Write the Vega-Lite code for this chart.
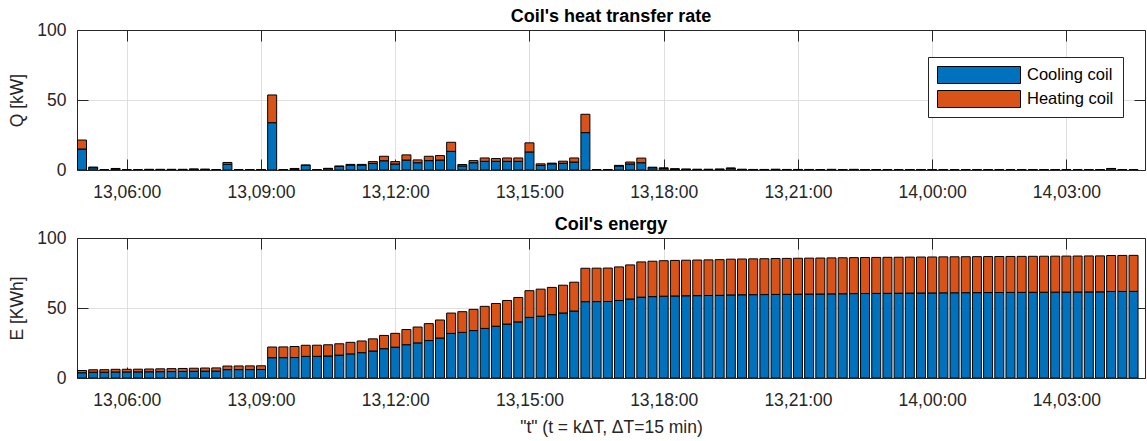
{
  "$schema": "https://vega.github.io/schema/vega-lite/v6.json",
  "padding": {"left": 8, "top": 8, "right": 0, "bottom": 5},
  "bounds": "flush",
  "spacing": 68,
  "resolve": {"legend": {"color": "independent"}},
  "config": {
    "font": "Liberation Sans",
    "view": {"stroke": null},
    "axis": {
      "labelFont": "Liberation Sans",
      "labelFontSize": 17.5,
      "labelColor": "#262626",
      "labelFlush": false,
      "labelOverlap": false,
      "titleFont": "Liberation Sans",
      "titleFontSize": 17.5,
      "titleFontWeight": "normal",
      "titleColor": "#262626",
      "domainColor": "#262626",
      "domainWidth": 1,
      "tickColor": "#262626",
      "tickWidth": 1,
      "tickSize": -11,
      "gridColor": "#dfdfdf",
      "gridWidth": 1
    },
    "axisX": {"labelPadding": 24, "titlePadding": 10},
    "axisY": {"labelPadding": 22, "titlePadding": 10},
    "title": {"font": "Liberation Sans", "fontSize": 18, "fontWeight": "bold", "color": "#000000", "offset": -5}
  },
  "datasets": {
    "rate": [
      {"t": "2021-07-13T05:00", "Cooling coil": 15.0, "Heating coil": 6.4},
      {"t": "2021-07-13T05:15", "Cooling coil": 1.6, "Heating coil": 0.5},
      {"t": "2021-07-13T05:30", "Cooling coil": 0.1, "Heating coil": 0.1},
      {"t": "2021-07-13T05:45", "Cooling coil": 0.6, "Heating coil": 0.5},
      {"t": "2021-07-13T06:00", "Cooling coil": 0.1, "Heating coil": 0.1},
      {"t": "2021-07-13T06:15", "Cooling coil": 0.1, "Heating coil": 0.1},
      {"t": "2021-07-13T06:30", "Cooling coil": 0.3, "Heating coil": 0.2},
      {"t": "2021-07-13T06:45", "Cooling coil": 0.3, "Heating coil": 0.2},
      {"t": "2021-07-13T07:00", "Cooling coil": 0.3, "Heating coil": 0.2},
      {"t": "2021-07-13T07:15", "Cooling coil": 0.3, "Heating coil": 0.2},
      {"t": "2021-07-13T07:30", "Cooling coil": 0.5, "Heating coil": 0.2},
      {"t": "2021-07-13T07:45", "Cooling coil": 0.4, "Heating coil": 0.2},
      {"t": "2021-07-13T08:00", "Cooling coil": 0.2, "Heating coil": 0.1},
      {"t": "2021-07-13T08:15", "Cooling coil": 4.1, "Heating coil": 1.3},
      {"t": "2021-07-13T08:30", "Cooling coil": 0.1, "Heating coil": 0.1},
      {"t": "2021-07-13T08:45", "Cooling coil": 0.1, "Heating coil": 0.1},
      {"t": "2021-07-13T09:00", "Cooling coil": 0.2, "Heating coil": 0.1},
      {"t": "2021-07-13T09:15", "Cooling coil": 33.8, "Heating coil": 19.8},
      {"t": "2021-07-13T09:30", "Cooling coil": 0.1, "Heating coil": 0.2},
      {"t": "2021-07-13T09:45", "Cooling coil": 0.3, "Heating coil": 0.8},
      {"t": "2021-07-13T10:00", "Cooling coil": 3.3, "Heating coil": 0.3},
      {"t": "2021-07-13T10:15", "Cooling coil": 0.1, "Heating coil": 0.1},
      {"t": "2021-07-13T10:30", "Cooling coil": 1.0, "Heating coil": 0.2},
      {"t": "2021-07-13T10:45", "Cooling coil": 2.5, "Heating coil": 0.4},
      {"t": "2021-07-13T11:00", "Cooling coil": 3.5, "Heating coil": 0.5},
      {"t": "2021-07-13T11:15", "Cooling coil": 3.5, "Heating coil": 0.5},
      {"t": "2021-07-13T11:30", "Cooling coil": 4.7, "Heating coil": 1.3},
      {"t": "2021-07-13T11:45", "Cooling coil": 6.6, "Heating coil": 3.2},
      {"t": "2021-07-13T12:00", "Cooling coil": 4.3, "Heating coil": 1.7},
      {"t": "2021-07-13T12:15", "Cooling coil": 7.1, "Heating coil": 3.7},
      {"t": "2021-07-13T12:30", "Cooling coil": 5.2, "Heating coil": 2.0},
      {"t": "2021-07-13T12:45", "Cooling coil": 6.7, "Heating coil": 3.1},
      {"t": "2021-07-13T13:00", "Cooling coil": 7.1, "Heating coil": 3.2},
      {"t": "2021-07-13T13:15", "Cooling coil": 13.3, "Heating coil": 6.5},
      {"t": "2021-07-13T13:30", "Cooling coil": 2.9, "Heating coil": 1.0},
      {"t": "2021-07-13T13:45", "Cooling coil": 5.2, "Heating coil": 1.5},
      {"t": "2021-07-13T14:00", "Cooling coil": 6.2, "Heating coil": 2.4},
      {"t": "2021-07-13T14:15", "Cooling coil": 6.2, "Heating coil": 2.0},
      {"t": "2021-07-13T14:30", "Cooling coil": 6.2, "Heating coil": 2.4},
      {"t": "2021-07-13T14:45", "Cooling coil": 6.2, "Heating coil": 2.4},
      {"t": "2021-07-13T15:00", "Cooling coil": 12.9, "Heating coil": 6.5},
      {"t": "2021-07-13T15:15", "Cooling coil": 3.3, "Heating coil": 1.1},
      {"t": "2021-07-13T15:30", "Cooling coil": 4.4, "Heating coil": 0.5},
      {"t": "2021-07-13T15:45", "Cooling coil": 4.8, "Heating coil": 1.5},
      {"t": "2021-07-13T16:00", "Cooling coil": 5.7, "Heating coil": 2.9},
      {"t": "2021-07-13T16:15", "Cooling coil": 26.7, "Heating coil": 13.1},
      {"t": "2021-07-13T16:30", "Cooling coil": 0.2, "Heating coil": 0.1},
      {"t": "2021-07-13T16:45", "Cooling coil": 0.2, "Heating coil": 0.1},
      {"t": "2021-07-13T17:00", "Cooling coil": 2.9, "Heating coil": 0.4},
      {"t": "2021-07-13T17:15", "Cooling coil": 4.3, "Heating coil": 1.4},
      {"t": "2021-07-13T17:30", "Cooling coil": 5.2, "Heating coil": 3.3},
      {"t": "2021-07-13T17:45", "Cooling coil": 1.6, "Heating coil": 0.4},
      {"t": "2021-07-13T18:00", "Cooling coil": 1.2, "Heating coil": 0.3},
      {"t": "2021-07-13T18:15", "Cooling coil": 0.7, "Heating coil": 0.1},
      {"t": "2021-07-13T18:30", "Cooling coil": 0.5, "Heating coil": 0.1},
      {"t": "2021-07-13T18:45", "Cooling coil": 0.4, "Heating coil": 0.1},
      {"t": "2021-07-13T19:00", "Cooling coil": 0.4, "Heating coil": 0.1},
      {"t": "2021-07-13T19:15", "Cooling coil": 0.5, "Heating coil": 0.1},
      {"t": "2021-07-13T19:30", "Cooling coil": 1.2, "Heating coil": 0.2},
      {"t": "2021-07-13T19:45", "Cooling coil": 0.4, "Heating coil": 0.1},
      {"t": "2021-07-13T20:00", "Cooling coil": 0.3, "Heating coil": 0.1},
      {"t": "2021-07-13T20:15", "Cooling coil": 0.3, "Heating coil": 0.1},
      {"t": "2021-07-13T20:30", "Cooling coil": 0.4, "Heating coil": 0.1},
      {"t": "2021-07-13T20:45", "Cooling coil": 0.3, "Heating coil": 0.1},
      {"t": "2021-07-13T21:00", "Cooling coil": 0.3, "Heating coil": 0.1},
      {"t": "2021-07-13T21:15", "Cooling coil": 0.3, "Heating coil": 0.1},
      {"t": "2021-07-13T21:30", "Cooling coil": 0.3, "Heating coil": 0.0},
      {"t": "2021-07-13T21:45", "Cooling coil": 0.4, "Heating coil": 0.0},
      {"t": "2021-07-13T22:00", "Cooling coil": 0.3, "Heating coil": 0.0},
      {"t": "2021-07-13T22:15", "Cooling coil": 0.4, "Heating coil": 0.0},
      {"t": "2021-07-13T22:30", "Cooling coil": 0.3, "Heating coil": 0.0},
      {"t": "2021-07-13T22:45", "Cooling coil": 0.3, "Heating coil": 0.0},
      {"t": "2021-07-13T23:00", "Cooling coil": 0.3, "Heating coil": 0.0},
      {"t": "2021-07-13T23:15", "Cooling coil": 0.2, "Heating coil": 0.0},
      {"t": "2021-07-13T23:30", "Cooling coil": 0.3, "Heating coil": 0.0},
      {"t": "2021-07-13T23:45", "Cooling coil": 0.3, "Heating coil": 0.0},
      {"t": "2021-07-14T00:00", "Cooling coil": 0.2, "Heating coil": 0.0},
      {"t": "2021-07-14T00:15", "Cooling coil": 0.3, "Heating coil": 0.0},
      {"t": "2021-07-14T00:30", "Cooling coil": 0.2, "Heating coil": 0.0},
      {"t": "2021-07-14T00:45", "Cooling coil": 0.2, "Heating coil": 0.0},
      {"t": "2021-07-14T01:00", "Cooling coil": 0.2, "Heating coil": 0.0},
      {"t": "2021-07-14T01:15", "Cooling coil": 0.2, "Heating coil": 0.0},
      {"t": "2021-07-14T01:30", "Cooling coil": 0.2, "Heating coil": 0.0},
      {"t": "2021-07-14T01:45", "Cooling coil": 0.2, "Heating coil": 0.0},
      {"t": "2021-07-14T02:00", "Cooling coil": 0.2, "Heating coil": 0.0},
      {"t": "2021-07-14T02:15", "Cooling coil": 0.2, "Heating coil": 0.0},
      {"t": "2021-07-14T02:30", "Cooling coil": 0.2, "Heating coil": 0.0},
      {"t": "2021-07-14T02:45", "Cooling coil": 0.2, "Heating coil": 0.0},
      {"t": "2021-07-14T03:00", "Cooling coil": 0.2, "Heating coil": 0.0},
      {"t": "2021-07-14T03:15", "Cooling coil": 0.2, "Heating coil": 0.0},
      {"t": "2021-07-14T03:30", "Cooling coil": 0.2, "Heating coil": 0.0},
      {"t": "2021-07-14T03:45", "Cooling coil": 0.2, "Heating coil": 0.0},
      {"t": "2021-07-14T04:00", "Cooling coil": 1.0, "Heating coil": 0.1},
      {"t": "2021-07-14T04:15", "Cooling coil": 0.2, "Heating coil": 0.0},
      {"t": "2021-07-14T04:30", "Cooling coil": 0.2, "Heating coil": 0.0}
    ],
    "energy": [
      {"t": "2021-07-13T05:00", "Cooling coil": 3.75, "Heating coil": 1.6},
      {"t": "2021-07-13T05:15", "Cooling coil": 4.15, "Heating coil": 1.73},
      {"t": "2021-07-13T05:30", "Cooling coil": 4.18, "Heating coil": 1.75},
      {"t": "2021-07-13T05:45", "Cooling coil": 4.33, "Heating coil": 1.88},
      {"t": "2021-07-13T06:00", "Cooling coil": 4.35, "Heating coil": 1.9},
      {"t": "2021-07-13T06:15", "Cooling coil": 4.38, "Heating coil": 1.93},
      {"t": "2021-07-13T06:30", "Cooling coil": 4.45, "Heating coil": 1.98},
      {"t": "2021-07-13T06:45", "Cooling coil": 4.53, "Heating coil": 2.03},
      {"t": "2021-07-13T07:00", "Cooling coil": 4.6, "Heating coil": 2.08},
      {"t": "2021-07-13T07:15", "Cooling coil": 4.68, "Heating coil": 2.13},
      {"t": "2021-07-13T07:30", "Cooling coil": 4.8, "Heating coil": 2.18},
      {"t": "2021-07-13T07:45", "Cooling coil": 4.9, "Heating coil": 2.23},
      {"t": "2021-07-13T08:00", "Cooling coil": 4.95, "Heating coil": 2.25},
      {"t": "2021-07-13T08:15", "Cooling coil": 5.98, "Heating coil": 2.58},
      {"t": "2021-07-13T08:30", "Cooling coil": 6.0, "Heating coil": 2.6},
      {"t": "2021-07-13T08:45", "Cooling coil": 6.03, "Heating coil": 2.63},
      {"t": "2021-07-13T09:00", "Cooling coil": 6.08, "Heating coil": 2.65},
      {"t": "2021-07-13T09:15", "Cooling coil": 14.53, "Heating coil": 7.6},
      {"t": "2021-07-13T09:30", "Cooling coil": 14.55, "Heating coil": 7.65},
      {"t": "2021-07-13T09:45", "Cooling coil": 14.63, "Heating coil": 7.85},
      {"t": "2021-07-13T10:00", "Cooling coil": 15.45, "Heating coil": 7.93},
      {"t": "2021-07-13T10:15", "Cooling coil": 15.48, "Heating coil": 7.95},
      {"t": "2021-07-13T10:30", "Cooling coil": 15.73, "Heating coil": 8.0},
      {"t": "2021-07-13T10:45", "Cooling coil": 16.35, "Heating coil": 8.1},
      {"t": "2021-07-13T11:00", "Cooling coil": 17.23, "Heating coil": 8.23},
      {"t": "2021-07-13T11:15", "Cooling coil": 18.1, "Heating coil": 8.35},
      {"t": "2021-07-13T11:30", "Cooling coil": 19.28, "Heating coil": 8.68},
      {"t": "2021-07-13T11:45", "Cooling coil": 20.93, "Heating coil": 9.48},
      {"t": "2021-07-13T12:00", "Cooling coil": 22.0, "Heating coil": 9.9},
      {"t": "2021-07-13T12:15", "Cooling coil": 23.78, "Heating coil": 10.83},
      {"t": "2021-07-13T12:30", "Cooling coil": 25.08, "Heating coil": 11.33},
      {"t": "2021-07-13T12:45", "Cooling coil": 26.75, "Heating coil": 12.1},
      {"t": "2021-07-13T13:00", "Cooling coil": 28.53, "Heating coil": 12.9},
      {"t": "2021-07-13T13:15", "Cooling coil": 31.85, "Heating coil": 14.53},
      {"t": "2021-07-13T13:30", "Cooling coil": 32.58, "Heating coil": 14.78},
      {"t": "2021-07-13T13:45", "Cooling coil": 33.88, "Heating coil": 15.15},
      {"t": "2021-07-13T14:00", "Cooling coil": 35.43, "Heating coil": 15.75},
      {"t": "2021-07-13T14:15", "Cooling coil": 36.98, "Heating coil": 16.25},
      {"t": "2021-07-13T14:30", "Cooling coil": 38.53, "Heating coil": 16.85},
      {"t": "2021-07-13T14:45", "Cooling coil": 40.08, "Heating coil": 17.45},
      {"t": "2021-07-13T15:00", "Cooling coil": 43.3, "Heating coil": 19.08},
      {"t": "2021-07-13T15:15", "Cooling coil": 44.13, "Heating coil": 19.35},
      {"t": "2021-07-13T15:30", "Cooling coil": 45.23, "Heating coil": 19.48},
      {"t": "2021-07-13T15:45", "Cooling coil": 46.43, "Heating coil": 19.85},
      {"t": "2021-07-13T16:00", "Cooling coil": 47.85, "Heating coil": 20.58},
      {"t": "2021-07-13T16:15", "Cooling coil": 54.53, "Heating coil": 23.85},
      {"t": "2021-07-13T16:30", "Cooling coil": 54.58, "Heating coil": 23.88},
      {"t": "2021-07-13T16:45", "Cooling coil": 54.63, "Heating coil": 23.9},
      {"t": "2021-07-13T17:00", "Cooling coil": 55.35, "Heating coil": 24.0},
      {"t": "2021-07-13T17:15", "Cooling coil": 56.43, "Heating coil": 24.35},
      {"t": "2021-07-13T17:30", "Cooling coil": 57.73, "Heating coil": 25.18},
      {"t": "2021-07-13T17:45", "Cooling coil": 58.13, "Heating coil": 25.28},
      {"t": "2021-07-13T18:00", "Cooling coil": 58.43, "Heating coil": 25.35},
      {"t": "2021-07-13T18:15", "Cooling coil": 58.6, "Heating coil": 25.38},
      {"t": "2021-07-13T18:30", "Cooling coil": 58.73, "Heating coil": 25.4},
      {"t": "2021-07-13T18:45", "Cooling coil": 58.83, "Heating coil": 25.43},
      {"t": "2021-07-13T19:00", "Cooling coil": 58.93, "Heating coil": 25.45},
      {"t": "2021-07-13T19:15", "Cooling coil": 59.05, "Heating coil": 25.48},
      {"t": "2021-07-13T19:30", "Cooling coil": 59.35, "Heating coil": 25.53},
      {"t": "2021-07-13T19:45", "Cooling coil": 59.45, "Heating coil": 25.55},
      {"t": "2021-07-13T20:00", "Cooling coil": 59.53, "Heating coil": 25.58},
      {"t": "2021-07-13T20:15", "Cooling coil": 59.6, "Heating coil": 25.6},
      {"t": "2021-07-13T20:30", "Cooling coil": 59.7, "Heating coil": 25.63},
      {"t": "2021-07-13T20:45", "Cooling coil": 59.78, "Heating coil": 25.65},
      {"t": "2021-07-13T21:00", "Cooling coil": 59.85, "Heating coil": 25.68},
      {"t": "2021-07-13T21:15", "Cooling coil": 59.93, "Heating coil": 25.7},
      {"t": "2021-07-13T21:30", "Cooling coil": 60.0, "Heating coil": 25.7},
      {"t": "2021-07-13T21:45", "Cooling coil": 60.1, "Heating coil": 25.7},
      {"t": "2021-07-13T22:00", "Cooling coil": 60.18, "Heating coil": 25.7},
      {"t": "2021-07-13T22:15", "Cooling coil": 60.28, "Heating coil": 25.7},
      {"t": "2021-07-13T22:30", "Cooling coil": 60.35, "Heating coil": 25.7},
      {"t": "2021-07-13T22:45", "Cooling coil": 60.43, "Heating coil": 25.7},
      {"t": "2021-07-13T23:00", "Cooling coil": 60.5, "Heating coil": 25.7},
      {"t": "2021-07-13T23:15", "Cooling coil": 60.55, "Heating coil": 25.7},
      {"t": "2021-07-13T23:30", "Cooling coil": 60.63, "Heating coil": 25.7},
      {"t": "2021-07-13T23:45", "Cooling coil": 60.7, "Heating coil": 25.7},
      {"t": "2021-07-14T00:00", "Cooling coil": 60.75, "Heating coil": 25.7},
      {"t": "2021-07-14T00:15", "Cooling coil": 60.83, "Heating coil": 25.7},
      {"t": "2021-07-14T00:30", "Cooling coil": 60.88, "Heating coil": 25.7},
      {"t": "2021-07-14T00:45", "Cooling coil": 60.93, "Heating coil": 25.7},
      {"t": "2021-07-14T01:00", "Cooling coil": 60.98, "Heating coil": 25.7},
      {"t": "2021-07-14T01:15", "Cooling coil": 61.03, "Heating coil": 25.7},
      {"t": "2021-07-14T01:30", "Cooling coil": 61.08, "Heating coil": 25.7},
      {"t": "2021-07-14T01:45", "Cooling coil": 61.13, "Heating coil": 25.7},
      {"t": "2021-07-14T02:00", "Cooling coil": 61.18, "Heating coil": 25.7},
      {"t": "2021-07-14T02:15", "Cooling coil": 61.23, "Heating coil": 25.7},
      {"t": "2021-07-14T02:30", "Cooling coil": 61.28, "Heating coil": 25.7},
      {"t": "2021-07-14T02:45", "Cooling coil": 61.33, "Heating coil": 25.7},
      {"t": "2021-07-14T03:00", "Cooling coil": 61.38, "Heating coil": 25.7},
      {"t": "2021-07-14T03:15", "Cooling coil": 61.43, "Heating coil": 25.7},
      {"t": "2021-07-14T03:30", "Cooling coil": 61.48, "Heating coil": 25.7},
      {"t": "2021-07-14T03:45", "Cooling coil": 61.53, "Heating coil": 25.7},
      {"t": "2021-07-14T04:00", "Cooling coil": 61.78, "Heating coil": 25.73},
      {"t": "2021-07-14T04:15", "Cooling coil": 61.83, "Heating coil": 25.73},
      {"t": "2021-07-14T04:30", "Cooling coil": 61.88, "Heating coil": 25.73}
    ]
  },
  "vconcat": [
    {
      "title": "Coil's heat transfer rate",
      "width": 1068,
      "height": 140,
      "data": {"name": "rate"},
      "transform": [{"fold": ["Cooling coil", "Heating coil"], "as": ["coil", "value"]}],
      "layer": [
        {
          "mark": {"type": "bar", "size": 9, "stroke": "#000000", "strokeWidth": 1, "clip": true},
          "encoding": {
            "x": {
              "field": "t", "type": "temporal",
              "scale": {"domain": [{"year": 2021, "month": 7, "date": 13, "hours": 5}, {"year": 2021, "month": 7, "date": 14, "hours": 4, "minutes": 38, "seconds": 40}]},
              "axis": {
                "title": null, "grid": true, "format": "%d,%H:%M",
                "values": [
                  {"year": 2021, "month": 7, "date": 13, "hours": 6},
                  {"year": 2021, "month": 7, "date": 13, "hours": 9},
                  {"year": 2021, "month": 7, "date": 13, "hours": 12},
                  {"year": 2021, "month": 7, "date": 13, "hours": 15},
                  {"year": 2021, "month": 7, "date": 13, "hours": 18},
                  {"year": 2021, "month": 7, "date": 13, "hours": 21},
                  {"year": 2021, "month": 7, "date": 14, "hours": 0},
                  {"year": 2021, "month": 7, "date": 14, "hours": 3}
                ]
              }
            },
            "y": {
              "field": "value", "type": "quantitative", "stack": "zero",
              "scale": {"domain": [0, 100]},
              "axis": {"title": "Q [kW]", "values": [0, 50, 100], "grid": true}
            },
            "color": {
              "field": "coil", "type": "nominal",
              "scale": {"domain": ["Cooling coil", "Heating coil"], "range": ["#0072BD", "#D95319"]},
              "legend": {
                "title": null, "orient": "none", "legendX": 851, "legendY": 27, "direction": "vertical",
                "symbolType": "M-1,-0.205H1V0.205H-1Z", "symbolSize": 6889,
                "symbolStrokeColor": "#000000", "symbolStrokeWidth": 1, "symbolOpacity": 1,
                "clipHeight": 18, "rowPadding": 6,
                "labelFont": "Liberation Sans", "labelFontSize": 16.5, "labelColor": "#000000", "labelOffset": 6, "labelLimit": 300,
                "padding": 9, "strokeColor": "#262626", "fillColor": "#ffffff"
              }
            },
            "order": {"field": "coil"}
          }
        },
        {
          "mark": {"type": "point", "opacity": 0, "clip": true},
          "encoding": {
            "x": {
              "field": "t", "type": "temporal",
              "scale": {"domain": [{"year": 2021, "month": 7, "date": 13, "hours": 5}, {"year": 2021, "month": 7, "date": 14, "hours": 4, "minutes": 38, "seconds": 40}]},
              "axis": {
                "orient": "top", "title": null, "labels": false, "grid": false,
                "values": [
                  {"year": 2021, "month": 7, "date": 13, "hours": 6},
                  {"year": 2021, "month": 7, "date": 13, "hours": 9},
                  {"year": 2021, "month": 7, "date": 13, "hours": 12},
                  {"year": 2021, "month": 7, "date": 13, "hours": 15},
                  {"year": 2021, "month": 7, "date": 13, "hours": 18},
                  {"year": 2021, "month": 7, "date": 13, "hours": 21},
                  {"year": 2021, "month": 7, "date": 14, "hours": 0},
                  {"year": 2021, "month": 7, "date": 14, "hours": 3}
                ]
              }
            },
            "y": {
              "field": "value", "type": "quantitative",
              "scale": {"domain": [0, 100]},
              "axis": {"orient": "right", "title": null, "labels": false, "grid": false, "values": [0, 50, 100]}
            }
          }
        }
      ],
      "resolve": {"axis": {"x": "independent", "y": "independent"}}
    },
    {
      "title": "Coil's energy",
      "width": 1068,
      "height": 140,
      "data": {"name": "energy"},
      "transform": [{"fold": ["Cooling coil", "Heating coil"], "as": ["coil", "value"]}],
      "layer": [
        {
          "mark": {"type": "bar", "size": 9, "stroke": "#000000", "strokeWidth": 1, "clip": true},
          "encoding": {
            "x": {
              "field": "t", "type": "temporal",
              "scale": {"domain": [{"year": 2021, "month": 7, "date": 13, "hours": 5}, {"year": 2021, "month": 7, "date": 14, "hours": 4, "minutes": 38, "seconds": 40}]},
              "axis": {
                "title": "\"t\" (t = kΔT, ΔT=15 min)", "grid": true, "format": "%d,%H:%M",
                "values": [
                  {"year": 2021, "month": 7, "date": 13, "hours": 6},
                  {"year": 2021, "month": 7, "date": 13, "hours": 9},
                  {"year": 2021, "month": 7, "date": 13, "hours": 12},
                  {"year": 2021, "month": 7, "date": 13, "hours": 15},
                  {"year": 2021, "month": 7, "date": 13, "hours": 18},
                  {"year": 2021, "month": 7, "date": 13, "hours": 21},
                  {"year": 2021, "month": 7, "date": 14, "hours": 0},
                  {"year": 2021, "month": 7, "date": 14, "hours": 3}
                ]
              }
            },
            "y": {
              "field": "value", "type": "quantitative", "stack": "zero",
              "scale": {"domain": [0, 100]},
              "axis": {"title": "E [KWh]", "values": [0, 50, 100], "grid": true}
            },
            "color": {
              "field": "coil", "type": "nominal",
              "scale": {"domain": ["Cooling coil", "Heating coil"], "range": ["#0072BD", "#D95319"]},
              "legend": null
            },
            "order": {"field": "coil"}
          }
        },
        {
          "mark": {"type": "point", "opacity": 0, "clip": true},
          "encoding": {
            "x": {
              "field": "t", "type": "temporal",
              "scale": {"domain": [{"year": 2021, "month": 7, "date": 13, "hours": 5}, {"year": 2021, "month": 7, "date": 14, "hours": 4, "minutes": 38, "seconds": 40}]},
              "axis": {
                "orient": "top", "title": null, "labels": false, "grid": false,
                "values": [
                  {"year": 2021, "month": 7, "date": 13, "hours": 6},
                  {"year": 2021, "month": 7, "date": 13, "hours": 9},
                  {"year": 2021, "month": 7, "date": 13, "hours": 12},
                  {"year": 2021, "month": 7, "date": 13, "hours": 15},
                  {"year": 2021, "month": 7, "date": 13, "hours": 18},
                  {"year": 2021, "month": 7, "date": 13, "hours": 21},
                  {"year": 2021, "month": 7, "date": 14, "hours": 0},
                  {"year": 2021, "month": 7, "date": 14, "hours": 3}
                ]
              }
            },
            "y": {
              "field": "value", "type": "quantitative",
              "scale": {"domain": [0, 100]},
              "axis": {"orient": "right", "title": null, "labels": false, "grid": false, "values": [0, 50, 100]}
            }
          }
        }
      ],
      "resolve": {"axis": {"x": "independent", "y": "independent"}}
    }
  ]
}
